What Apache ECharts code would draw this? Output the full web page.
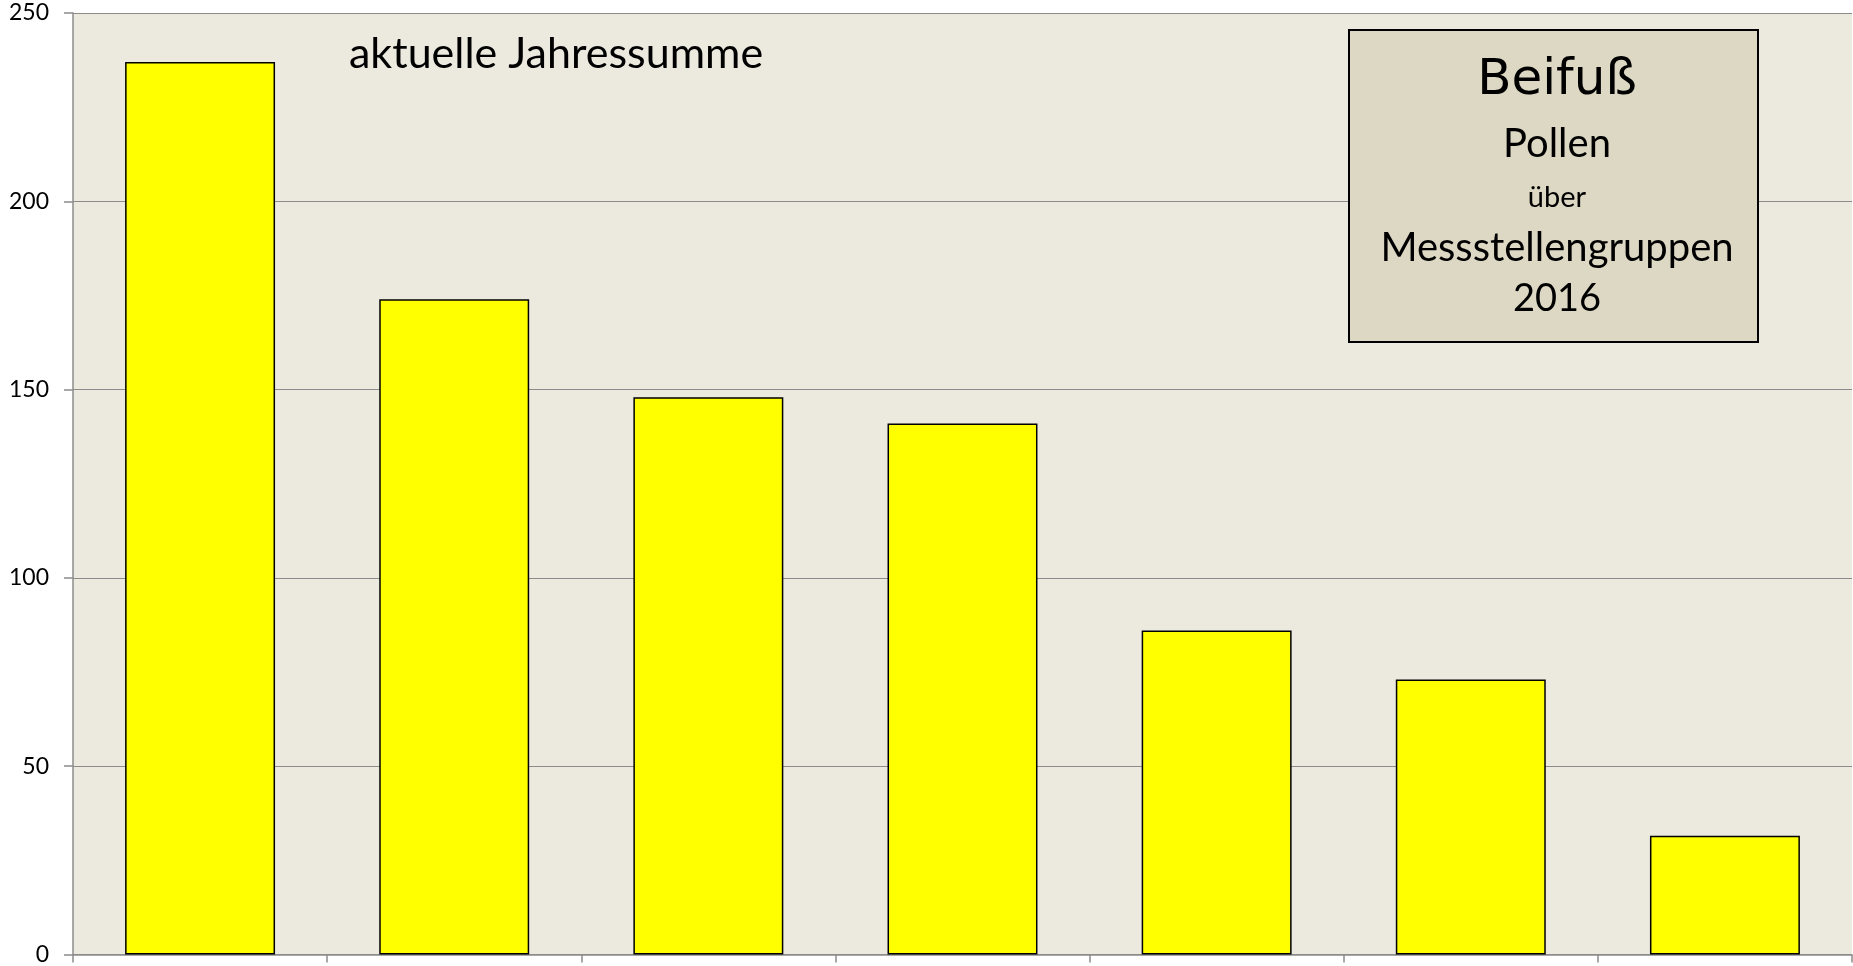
<!DOCTYPE html>
<html>
<head>
<meta charset="utf-8">
<script src="https://cdn.jsdelivr.net/npm/echarts@6/dist/echarts.min.js"></script>
<style>
html,body{margin:0;padding:0;background:#fff;}
#chart{width:1853px;height:966px;}
</style>
</head>
<body>
<div id="chart"></div>
<script>
// Data
const categories = ['1', '2', '3', '4', '5', '6', '7'];
const values = [237, 174, 148, 141, 86, 73, 31.5];
const yTicks = { min: 0, max: 250, interval: 50 };
const subtitle = 'aktuelle Jahressumme';
const boxLines = ['Beifuß', 'Pollen', 'über', 'Messstellengruppen', '2016'];

const FONT = 'Lato, "Open Sans", sans-serif';
const chart = echarts.init(document.getElementById('chart'));
chart.setOption({
  animation: false,
  backgroundColor: '#ffffff',
  grid: {
    left: 73, top: 13, right: 1, bottom: 11,
    show: true, backgroundColor: '#ECE9DF', borderWidth: 0
  },
  xAxis: {
    type: 'category',
    data: categories,
    boundaryGap: true,
    axisLine: { show: true, lineStyle: { color: '#8c8c8c', width: 1.5 } },
    axisTick: { show: true, length: 8, lineStyle: { color: '#8c8c8c', width: 1.5 } },
    axisLabel: { show: false },
    splitLine: { show: false }
  },
  yAxis: {
    type: 'value',
    min: yTicks.min, max: yTicks.max, interval: yTicks.interval,
    axisLine: { show: true, lineStyle: { color: '#8c8c8c', width: 1.5 } },
    axisTick: { show: true, length: 9, lineStyle: { color: '#8c8c8c', width: 1.5 } },
    axisLabel: { color: '#000', fontSize: 23, fontFamily: FONT, margin: 24 },
    splitLine: { show: true, lineStyle: { color: '#8c8c8c', width: 1.2 } }
  },
  series: [{
    type: 'bar',
    data: values,
    barCategoryGap: '41%',
    itemStyle: { color: '#FFFF00', borderColor: '#000', borderWidth: 1.5 }
  }],
  graphic: [
    { type: 'text', left: 349, top: 33, z: 10,
      style: { text: subtitle, fontSize: 43, fontFamily: FONT, fill: '#000' } },
    { type: 'rect', z: 10, shape: { x: 1349, y: 30, width: 409, height: 312 },
      style: { fill: '#DDD8C3', stroke: '#000', lineWidth: 2 } },
    { type: 'text', z: 11, x: 1557, y: 81,
      style: { text: boxLines[0], fontSize: 50, fontWeight: 'normal', fontFamily: '"Comic Sans MS", "DejaVu Sans", sans-serif', fill: '#000', align: 'center', verticalAlign: 'middle' } },
    { type: 'text', z: 11, x: 1557, y: 144,
      style: { text: boxLines[1], fontSize: 40, fontFamily: FONT, fill: '#000', align: 'center', verticalAlign: 'middle' } },
    { type: 'text', z: 11, x: 1557, y: 198,
      style: { text: boxLines[2], fontSize: 29, fontFamily: FONT, fill: '#000', align: 'center', verticalAlign: 'middle' } },
    { type: 'text', z: 11, x: 1557, y: 248,
      style: { text: boxLines[3], fontSize: 40, fontFamily: FONT, fill: '#000', align: 'center', verticalAlign: 'middle' } },
    { type: 'text', z: 11, x: 1557, y: 299,
      style: { text: boxLines[4], fontSize: 38, fontFamily: FONT, fill: '#000', align: 'center', verticalAlign: 'middle' } }
  ]
});
</script>
</body>
</html>
